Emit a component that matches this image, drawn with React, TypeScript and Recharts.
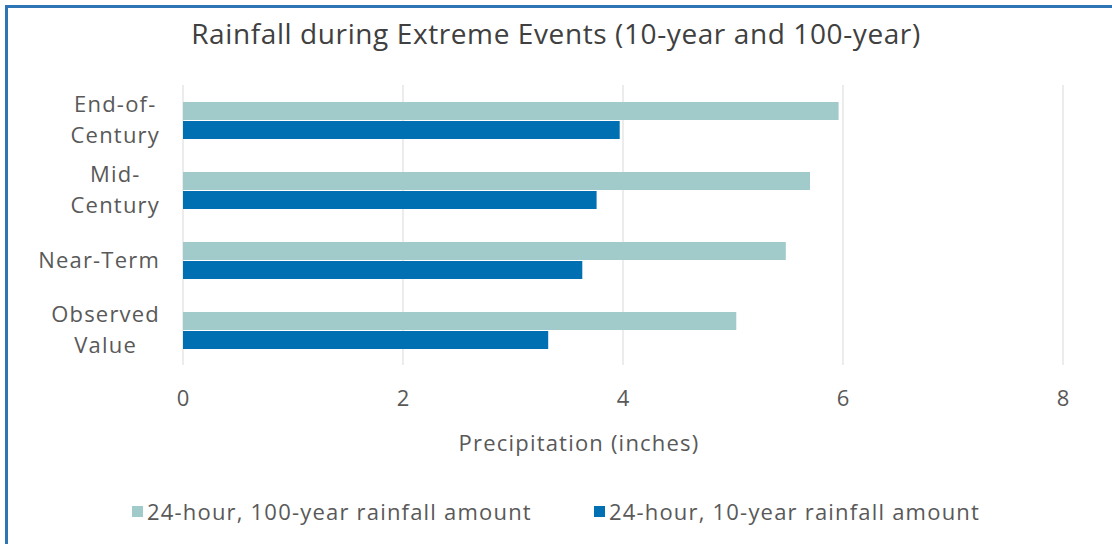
import React from "react";
import {
  BarChart,
  Bar,
  XAxis,
  YAxis,
  CartesianGrid,
  Legend,
} from "recharts";

const categories = ["End-of-Century", "Mid-Century", "Near-Term", "Observed Value"];
const hundredYear = [5.96, 5.7, 5.48, 5.03];
const tenYear = [3.97, 3.76, 3.63, 3.32];
const xTicks = [0, 2, 4, 6, 8];

// tick text is broken after the hyphen / space the way the labels wrap
const tickLines: Record<string, string[]> = {
  "End-of-Century": ["End-of-", "Century"],
  "Mid-Century": ["Mid-", "Century"],
  "Near-Term": ["Near-Term"],
  "Observed Value": ["Observed", "Value"],
};

const FONT = "'Open Sans', sans-serif";
const TEXT = "#595959";
const LIGHT = "#a0cbca";
const DARK = "#0070b2";
const SIZE = 22;
const SPACING = 1.2;

const data = categories.map((c, i) => ({
  name: c,
  hundred: hundredYear[i],
  ten: tenYear[i],
}));

let ctx: CanvasRenderingContext2D | null = null;
function measure(s: string, size: number) {
  if (!ctx) ctx = document.createElement("canvas").getContext("2d");
  if (!ctx) return s.length * size * 0.55;
  ctx.font = `${size}px ${FONT}`;
  return ctx.measureText(s).width + s.length * SPACING;
}

function CategoryTick(props: any) {
  const { x, y, payload } = props;
  const lines = tickLines[payload.value] || [payload.value];
  const w = Math.max(...lines.map((l) => measure(l, SIZE)));
  const cx = x - w / 2;
  const lh = 31;
  const top = y - ((lines.length - 1) * lh) / 2;
  return (
    <g>
      {lines.map((l, i) => (
        <text
          key={l}
          x={cx}
          y={top + i * lh}
          dy="0.35em"
          textAnchor="middle"
          fill={TEXT}
          fontSize={SIZE}
          fontFamily={FONT}
          style={{ letterSpacing: SPACING }}
        >
          {l}
        </text>
      ))}
    </g>
  );
}

function AxisTitle(props: any) {
  const { viewBox } = props;
  const cx = viewBox.x + viewBox.width / 2 - 44;
  return (
    <text
      x={cx}
      y={viewBox.y + 78}
      dy="0.35em"
      textAnchor="middle"
      fill={TEXT}
      fontSize={SIZE}
      fontFamily={FONT}
      style={{ letterSpacing: SPACING }}
    >
      Precipitation (inches)
    </text>
  );
}

function LegendRow() {
  const items = [
    { label: "24-hour, 100-year rainfall amount", color: LIGHT },
    { label: "24-hour, 10-year rainfall amount", color: DARK },
  ];
  return (
    <div
      style={{
        display: "flex",
        justifyContent: "center",
        gap: 62,
        fontFamily: FONT,
        fontSize: SIZE,
        letterSpacing: SPACING,
        color: TEXT,
      }}
    >
      {items.map((it) => (
        <div key={it.label} style={{ display: "flex", alignItems: "center", gap: 4 }}>
          <span style={{ width: 11, height: 11, background: it.color, display: "inline-block" }} />
          <span>{it.label}</span>
        </div>
      ))}
    </div>
  );
}

export default function App() {
  return (
    <div
      style={{
        position: "absolute",
        left: 0,
        top: 0,
        width: 1112,
        height: 544,
        background: "#fff",
        overflow: "hidden",
      }}
    >
      <div
        style={{
          position: "absolute",
          left: 5,
          top: 5,
          width: 1120,
          height: 560,
          borderLeft: "3px solid #2e75b6",
          borderTop: "3px solid #2e75b6",
        }}
      />
      <div
        style={{
          position: "absolute",
          left: 0,
          top: 14,
          width: 1112,
          textAlign: "center",
          fontFamily: FONT,
          fontSize: 28,
          letterSpacing: 0.6,
          color: "#404040",
        }}
      >
        Rainfall during Extreme Events (10-year and 100-year)
      </div>
      <BarChart
        width={1112}
        height={544}
        data={data}
        layout="vertical"
        margin={{ top: 85, right: 49, bottom: 89, left: 0 }}
        barSize={18}
        barGap={1}
      >
        <CartesianGrid horizontal={false} stroke="#d9d9d9" />
        <XAxis
          type="number"
          domain={[0, 8]}
          ticks={xTicks}
          axisLine={false}
          tickLine={false}
          tickMargin={19}
          height={90}
          tick={{ fill: TEXT, fontSize: SIZE, fontFamily: FONT }}
          label={<AxisTitle />}
        />
        <YAxis
          type="category"
          dataKey="name"
          width={183}
          axisLine={false}
          tickLine={false}
          tickMargin={17}
          tick={<CategoryTick />}
        />
        <Legend
          layout="horizontal"
          verticalAlign="middle"
          align="center"
          wrapperStyle={{ top: 496, left: 0, width: 1112 }}
          content={<LegendRow />}
        />
        <Bar dataKey="hundred" fill={LIGHT} isAnimationActive={false} />
        <Bar dataKey="ten" fill={DARK} isAnimationActive={false} />
      </BarChart>
    </div>
  );
}
